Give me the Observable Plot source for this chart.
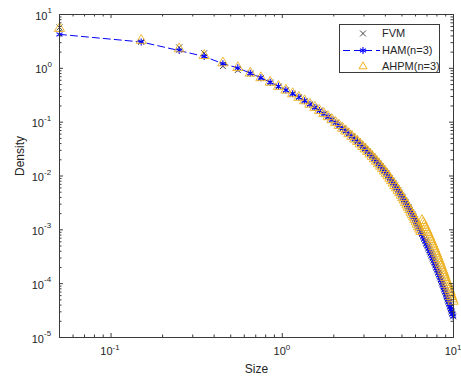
<!DOCTYPE html>
<html>
<head>
<meta charset="utf-8">
<script src="https://cdn.jsdelivr.net/npm/d3@7"></script>
<script src="https://cdn.jsdelivr.net/npm/@observablehq/plot@0.6"></script>
<style>
  html, body { margin: 0; padding: 0; background: #fff; }
  #chart { position: relative; width: 461px; height: 384px; font-family: "Liberation Sans", Arial, Helvetica, sans-serif; }
  #legend { position: absolute; left: 339px; top: 24px; }
</style>
</head>
<body>
<div id="chart"></div>
<script>
// ---- data ----
const sizes = [0.05,0.15,0.25,0.35,0.45,0.55,0.65,0.75,0.85,0.95,
  1.05,1.15,1.25,1.35,1.45,1.55,1.65,1.75,1.85,1.95,
  2.05,2.15,2.25,2.35,2.45,2.55,2.65,2.75,2.85,2.95,
  3.05,3.15,3.25,3.35,3.45,3.55,3.65,3.75,3.85,3.95,
  4.05,4.15,4.25,4.35,4.45,4.55,4.65,4.75,4.85,4.95,
  5.05,5.15,5.25,5.35,5.45,5.55,5.65,5.75,5.85,5.95,
  6.05,6.15,6.25,6.35,6.45,6.55,6.65,6.75,6.85,6.95,
  7.05,7.15,7.25,7.35,7.45,7.55,7.65,7.75,7.85,7.95,
  8.05,8.15,8.25,8.35,8.45,8.55,8.65,8.75,8.85,8.95,
  9.05,9.15,9.25,9.35,9.45,9.55,9.65,9.75,9.85,9.95];

const hamDensity = [4.27,3.09,2.14,1.66,1.22,1.02,0.813,0.668,0.550,0.462,
  0.394,0.337,0.289,0.249,0.216,0.188,0.164,0.144,0.126,0.111,
  0.0980,0.0867,0.0769,0.0684,0.0610,0.0545,0.0488,0.0438,0.0393,0.0353,
  0.0318,0.0286,0.0257,0.0232,0.0208,0.0188,0.0169,0.0152,0.0137,0.0124,
  0.0112,0.0101,0.00908,0.00818,0.00738,0.00665,0.00600,0.00541,0.00488,0.00440,
  0.00396,0.00357,0.00322,0.00290,0.00262,0.00236,0.00213,0.00192,0.00173,0.00156,
  0.00141,0.00127,0.00114,0.00103,0.000929,0.000837,0.000755,0.000681,0.000614,0.000553,
  0.000499,0.000450,0.000406,0.000366,0.000330,0.000297,0.000268,0.000242,0.000218,0.000196,
  0.000177,0.000160,0.000144,0.000130,0.000117,0.000105,0.0000951,0.0000857,0.0000773,0.0000697,
  0.0000628,0.0000566,0.0000511,0.0000460,0.0000415,0.0000374,0.0000337,0.0000304,0.0000274,0.0000247];

const fvmDensity = [5.75,3.10,2.45,1.91,1.10,0.93,0.80,0.66,0.545,0.458,
  0.392,0.336,0.290,0.248,0.215,0.187,0.164,0.143,0.126,0.111,
  0.0978,0.0866,0.0768,0.0683,0.0609,0.0544,0.0487,0.0437,0.0392,0.0352,
  0.0317,0.0285,0.0257,0.0231,0.0208,0.0187,0.0169,0.0152,0.0137,0.0124,
  0.0112,0.0101,0.00906,0.00817,0.00737,0.00664,0.00599,0.00540,0.00487,0.00439,
  0.00395,0.00356,0.00321,0.00290,0.00261,0.00236,0.00213,0.00192,0.00173,0.00156,
  0.00140,0.00127,0.00114,0.00103,0.000927,0.000836,0.000754,0.000680,0.000613,0.000552,
  0.000498,0.000449,0.000405,0.000365,0.000329,0.000297,0.000268,0.000241,0.000218,0.000196,
  0.000177,0.000159,0.000144,0.000130,0.000117,0.000105,0.0000950,0.0000856,0.0000772,0.0000696,
  0.0000627,0.0000566,0.0000510,0.0000460,0.0000415,0.0000374,0.0000337,0.0000304,0.0000274,0.0000247];

const ahpmDensity = [5.50,3.30,2.30,1.73,1.26,1.03,0.815,0.669,0.551,0.462,
  0.394,0.337,0.289,0.249,0.216,0.188,0.164,0.144,0.126,0.111,
  0.0980,0.0867,0.0769,0.0684,0.0610,0.0545,0.0488,0.0438,0.0393,0.0353,
  0.0318,0.0286,0.0257,0.0232,0.0208,0.0188,0.0169,0.0152,0.0137,0.0124,
  0.0112,0.0101,0.00908,0.00818,0.00738,0.00665,0.00600,0.00541,0.00488,0.00440,
  0.00396,0.00357,0.00322,0.00290,0.00262,0.00236,0.00213,0.00192,0.00173,0.00156,
  0.00141,0.00127,0.00114,0.00103,0.000929,0.00149,0.001346,0.001216,0.001099,0.000993,
  0.000895,0.000809,0.000731,0.000661,0.000597,0.000540,0.000488,0.000441,0.000397,0.000359,
  0.000324,0.000293,0.000265,0.000239,0.000216,0.000195,0.000176,0.000159,0.000144,0.000130,
  0.000117,0.000106,0.0000959,0.0000867,0.0000782,0.0000706,0.0000638,0.0000577,0.0000521,0.0000471];

const seriesNames = ["FVM", "HAM(n=3)", "AHPM(n=3)"];

const xMajorTicks = [0.1, 1, 10];
const xMajorExps = ["-1", "0", "1"];
const xMinorTicks = [0.06,0.07,0.08,0.09,0.2,0.3,0.4,0.5,0.6,0.7,0.8,0.9,2,3,4,5,6,7,8,9];
const yMajorTicks = [1e-5, 1e-4, 1e-3, 1e-2, 1e-1, 1, 10];
const yMajorExps = ["-5", "-4", "-3", "-2", "-1", "0", "1"];
const yMinorTicks = [];
[1e-5, 1e-4, 1e-3, 1e-2, 1e-1, 1].forEach(d => [2,3,4,5,6,7,8,9].forEach(m => yMinorTicks.push(+(d * m).toPrecision(3))));

// ---- build tables ----
const fvm = sizes.map((x, i) => ({x, y: fvmDensity[i]}));
const ham = sizes.map((x, i) => ({x, y: hamDensity[i]}));
const ahpm = sizes.map((x, i) => ({x, y: ahpmDensity[i]}));
const xTicks = xMajorTicks.map((v, i) => ({v, e: xMajorExps[i], neg: xMajorExps[i].startsWith("-")}));
const yTicks = yMajorTicks.map((v, i) => ({v, e: yMajorExps[i], neg: yMajorExps[i].startsWith("-")}));

// ---- layout ----
const W = 461, H = 384, mL = 59, mR = 8, mT = 14, mB = 47;
const fw = W - mL - mR, fh = H - mT - mB;
const axisColor = "#3a3a3a";
const textColor = "#262626";
const majorLen = 4, minorLen = 2.5;
const colFVM = "#1a1a1a", colHAM = "#0000ff", colAHPM = "#EDB120";

const chart = Plot.plot({
  width: W, height: H,
  marginLeft: mL, marginRight: mR, marginTop: mT, marginBottom: mB,
  style: {fontFamily: '"Liberation Sans", Arial, Helvetica, sans-serif', fontSize: "11px", color: textColor, background: "#fff", overflow: "visible"},
  x: {type: "log", domain: [0.05, 10], axis: null},
  y: {type: "log", domain: [1e-5, 10], axis: null},
  marks: [
    // data
    Plot.dot(fvm, {x: "x", y: "y", symbol: "times", r: 2.8, stroke: colFVM, strokeWidth: 0.8}),
    Plot.line(ham, {x: "x", y: "y", stroke: colHAM, strokeWidth: 1, strokeDasharray: "7,4"}),
    Plot.dot(ham, {x: "x", y: "y", symbol: "asterisk", r: 3.3, stroke: colHAM, strokeWidth: 1.1}),
    Plot.dot(ahpm, {x: "x", y: "y", symbol: "triangle", r: 3.8, stroke: colAHPM, strokeWidth: 0.9}),
    // ticks (inward, all four sides)
    Plot.tickX(xMajorTicks, {x: d => d, insetTop: fh - majorLen, stroke: axisColor}),
    Plot.tickX(xMajorTicks, {x: d => d, insetBottom: fh - majorLen, stroke: axisColor}),
    Plot.tickX(xMinorTicks, {x: d => d, insetTop: fh - minorLen, stroke: axisColor}),
    Plot.tickX(xMinorTicks, {x: d => d, insetBottom: fh - minorLen, stroke: axisColor}),
    Plot.tickY(yMajorTicks, {y: d => d, insetRight: fw - majorLen, stroke: axisColor}),
    Plot.tickY(yMajorTicks, {y: d => d, insetLeft: fw - majorLen, stroke: axisColor}),
    Plot.tickY(yMinorTicks, {y: d => d, insetRight: fw - minorLen, stroke: axisColor}),
    Plot.tickY(yMinorTicks, {y: d => d, insetLeft: fw - minorLen, stroke: axisColor}),
    Plot.frame({stroke: axisColor, strokeWidth: 1}),
    // x tick labels: 10^n
    Plot.text(xTicks.filter(d => d.neg), {x: "v", frameAnchor: "bottom", text: () => "10", textAnchor: "end", dx: 1.5, dy: 17, fill: textColor, fontSize: 11}),
    Plot.text(xTicks.filter(d => d.neg), {x: "v", frameAnchor: "bottom", text: "e", textAnchor: "start", dx: 1.5, dy: 12.5, fill: textColor, fontSize: 8}),
    Plot.text(xTicks.filter(d => !d.neg), {x: "v", frameAnchor: "bottom", text: () => "10", textAnchor: "end", dx: 3.5, dy: 17, fill: textColor, fontSize: 11}),
    Plot.text(xTicks.filter(d => !d.neg), {x: "v", frameAnchor: "bottom", text: "e", textAnchor: "start", dx: 3.5, dy: 12.5, fill: textColor, fontSize: 8}),
    // y tick labels: 10^n
    Plot.text(yTicks.filter(d => d.neg), {y: "v", frameAnchor: "left", text: () => "10", textAnchor: "end", dx: -15.5, dy: 1.5, fill: textColor, fontSize: 11}),
    Plot.text(yTicks.filter(d => d.neg), {y: "v", frameAnchor: "left", text: "e", textAnchor: "start", dx: -15.5, dy: -4, fill: textColor, fontSize: 8}),
    Plot.text(yTicks.filter(d => !d.neg), {y: "v", frameAnchor: "left", text: () => "10", textAnchor: "end", dx: -12, dy: 1.5, fill: textColor, fontSize: 11}),
    Plot.text(yTicks.filter(d => !d.neg), {y: "v", frameAnchor: "left", text: "e", textAnchor: "start", dx: -12, dy: -4, fill: textColor, fontSize: 8}),
    // axis titles
    Plot.text(["Size"], {frameAnchor: "bottom", text: d => d, dy: 35, fill: textColor, fontSize: 12}),
    Plot.text(["Density"], {frameAnchor: "left", text: d => d, dx: -39, rotate: -90, fill: textColor, fontSize: 12})
  ]
});
document.getElementById("chart").appendChild(chart);

// ---- legend (overlay box inside the axes, upper right) ----
const lw = 101, lh = 49;
const legend = d3.select("#chart").append("svg")
  .attr("id", "legend").attr("width", lw).attr("height", lh)
  .style("font-family", '"Liberation Sans", Arial, Helvetica, sans-serif');
legend.append("rect").attr("x", 0.5).attr("y", 0.5).attr("width", lw - 1).attr("height", lh - 1)
  .attr("fill", "#fff").attr("stroke", axisColor).attr("stroke-width", 1);
const rows = [
  {name: seriesNames[0], y: 9.5, sym: d3.symbolTimes, color: colFVM, size: Math.PI * 2.8 * 2.8, line: false, sw: 0.8},
  {name: seriesNames[1], y: 26.5, sym: d3.symbolAsterisk, color: colHAM, size: Math.PI * 3.3 * 3.3, line: true, sw: 1.1},
  {name: seriesNames[2], y: 42.5, sym: d3.symbolTriangle2, color: colAHPM, size: Math.PI * 3.8 * 3.8, line: false, sw: 1}
];
rows.forEach(r => {
  if (r.line) {
    legend.append("line").attr("x1", 3).attr("x2", 41).attr("y1", r.y).attr("y2", r.y)
      .attr("stroke", r.color).attr("stroke-width", 1).attr("stroke-dasharray", "7,4").attr("stroke-dashoffset", -1);
  }
  legend.append("path").attr("d", d3.symbol(r.sym, r.size)()).attr("transform", `translate(24,${r.y})`)
    .attr("fill", "none").attr("stroke", r.color).attr("stroke-width", r.sw);
  legend.append("text").attr("x", 43).attr("y", r.y).attr("dy", "0.35em")
    .attr("font-size", 11).attr("fill", textColor).text(r.name);
});
</script>
</body>
</html>
